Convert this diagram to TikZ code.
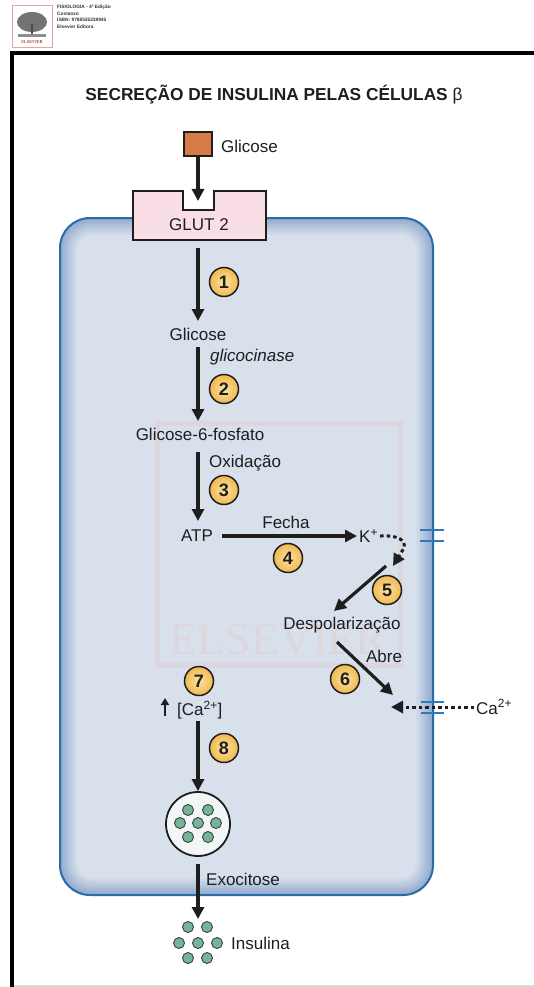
\documentclass[tikz,border=0pt]{standalone}
\usepackage{fontspec}
\setmainfont{Liberation Sans}
\newfontfamily\logoserif{Liberation Serif}
\usetikzlibrary{arrows.meta,calc}

\definecolor{cellin}{HTML}{D8E0EC}
\definecolor{celledge}{HTML}{92ABCF}
\definecolor{cellline}{HTML}{2A6CA6}
\definecolor{glutfill}{HTML}{F9DFE5}
\definecolor{glcfill}{HTML}{D67A48}
\definecolor{numin}{HTML}{FCE3A2}
\definecolor{numout}{HTML}{F1B850}
\definecolor{granule}{HTML}{74B597}
\definecolor{wmark}{HTML}{E3CACB}
\definecolor{chan}{HTML}{2C7BC0}
\definecolor{ink}{HTML}{1E1E1E}

\tikzset{
  lbl/.style={font=\fontsize{17}{19}\selectfont, text=ink, inner sep=2pt},
  flow/.style={draw=ink, line width=3.2pt, -{Triangle[length=12pt,width=12pt]}},
  dotflow/.style={draw=ink, line width=3pt, dash pattern=on 3.5pt off 3pt, -{Triangle[length=12pt,width=12pt]}},
  stepnum/.style={circle, draw=ink, line width=1.5pt, inner color=numin, outer color=numout,
    minimum size=29pt, inner sep=0pt, font=\bfseries\fontsize{18}{18}\selectfont, text=ink},
  gran/.style={circle, draw=ink!85, line width=0.9pt, fill=granule, minimum size=11pt, inner sep=0pt},
  channel/.style={draw=chan, line width=1.8pt},
}

\begin{document}
\begin{tikzpicture}[x=1pt,y=-1pt]
\useasboundingbox (0,0) rectangle (534,987);
\fill[white] (0,0) rectangle (534,987);

% publisher header
\draw[draw=wmark!80!red, line width=0.8pt, fill=white] (12,5) rectangle (52,47);
\fill[black!55] (32,22) ellipse (15pt and 10pt);
\fill[black!70] (31,24) rectangle (33,36);
\fill[black!45] (18,34) rectangle (46,37);
\node[font=\logoserif\fontsize{4.5}{5}\selectfont, text=red!55!black, inner sep=0pt] (logotxt) at (32,42) {ELSEVIER};
\node[anchor=north west, align=left, inner sep=0pt, font=\bfseries\fontsize{4.8}{6.6}\selectfont, text=black!80] (book) at (57,5)
  {FISIOLOGIA - 4ª Edição\\Costanzo\\ISBN: 9788535238945\\Elsevier Editora};

% page frame
\fill[black] (10,51) rectangle (534,55);
\fill[black] (10,51) rectangle (14,987);
\fill[black!15] (14,985) rectangle (534,987);

% title
\node[font=\bfseries\fontsize{17.3}{20}\selectfont, text=ink] (title) at (274,95)
  {SECREÇÃO DE INSULINA PELAS CÉLULAS {\mdseries β}};

% cell body with darker rim
\foreach \i in {0,...,12}{
  \pgfmathtruncatemacro\p{\i*100/12}
  \pgfmathsetmacro\d{\i*1.4}
  \pgfmathsetmacro\r{30-\i*1.2}
  \fill[cellin!\p!celledge, rounded corners=\r pt] (60+\d,218+\d) rectangle (433-\d,895-\d);
}
\draw[cellline, line width=2pt, rounded corners=30pt] (60,218) rectangle (433,895);

% faint imprint in the cytoplasm
\draw[wmark, line width=5pt, opacity=0.4] (157,423) rectangle (400,665);
\node[font=\logoserif\fontsize{46}{46}\selectfont, text=wmark, opacity=0.45, inner sep=0pt] (imprint) at (278,640) {ELSEVIER};

% glucose transporter
\draw[draw=ink, line width=1.6pt, fill=glutfill] (133,191) -- (183,191) -- (183,210) -- (214,210) -- (214,191)
  -- (266,191) -- (266,240) -- (133,240) -- cycle;
\node[lbl] (glut) at (199,225) {GLUT 2};

% extracellular glucose
\node[draw=ink, line width=1.2pt, fill=glcfill, minimum width=28pt, minimum height=24pt, inner sep=0pt] (glcbox) at (198,144) {};
\node[lbl, anchor=west] (glcout) at (219,146) {Glicose};
\coordinate (notch) at (198,201);
\draw[flow] (glcbox.south) -- (notch);

% metabolic chain
\node[lbl] (g1) at (198,334) {Glicose};
\node[lbl] (g6p) at (200,434) {Glicose-6-fosfato};
\node[lbl] (atp) at (197,536) {ATP};
\node[lbl, anchor=west] (kion) at (357,536) {K\textsuperscript{+}};
\node[lbl] (depol) at (342,625) {Despolarização};
\node[lbl, anchor=west] (caout) at (474,707) {Ca\textsuperscript{2+}};
\node[lbl, anchor=west] (cain) at (175,710) {[Ca\textsuperscript{2+}]};

\coordinate (a1s) at (198,248);  \coordinate (a1e) at (198,321);
\coordinate (a2s) at (198,347);  \coordinate (a2e) at (198,421);
\coordinate (a3s) at (198,452);  \coordinate (a3e) at (198,521);
\draw[flow] (a1s) -- (a1e);
\draw[flow] (a2s) -- (a2e);
\draw[flow] (a3s) -- (a3e);

\node[lbl, anchor=west, font=\itshape\fontsize{17}{19}\selectfont] (gck) at (208,357) {glicocinase};
\node[lbl, anchor=west] (oxid) at (207,463) {Oxidação};

\coordinate (a4s) at (222,536);
\draw[flow] (a4s) -- (kion.west);
\node[lbl] (fecha) at (286,522) {Fecha};

% K+ leaves through its channel, then depolarisation
\coordinate (kbend) at (404,548);
\coordinate (kend) at (393,566);
\draw[dotflow] (kion.east) .. controls (398,535) and (406,540) .. (kbend) -- (kend);
\coordinate (a5s) at (386,566);  \coordinate (a5e) at (334,611);
\draw[flow] (a5s) -- (a5e);

\coordinate (a6s) at (337,642);  \coordinate (a6e) at (393,695);
\draw[flow] (a6s) -- (a6e);
\node[lbl] (abre) at (384,656) {Abre};

% Ca2+ enters through its channel
\coordinate (caend) at (391,707);
\draw[dotflow] (caout.west) -- (caend);

% membrane channels
\draw[channel] (420,530) -- (444,530);
\draw[channel] (420,541) -- (444,541);
\draw[channel] (421,702) -- (444,702);
\draw[channel] (421,713) -- (444,713);

% rise of cytosolic Ca2+
\coordinate (upb) at (165,716);
\coordinate (upt) at (165,698);
\draw[draw=ink, line width=2pt, -{Triangle[length=7pt,width=8pt]}] (upb) -- (upt);

% insulin granule
\node[circle, draw=ink, line width=1.8pt, fill=white!70!cellin, minimum size=64pt, inner sep=0pt] (vesicle) at (198,824) {};
\coordinate (a8s) at (198,721);
\draw[flow] (a8s) -- (vesicle.north);
\foreach \gx/\gy [count=\k] in {188/810,208/810,180/823,198/823,216/823,188/837,208/837}
  \node[gran] (v\k) at (\gx,\gy) {};

% exocytosis
\coordinate (a9s) at (198,864);  \coordinate (a9e) at (198,919);
\draw[flow] (a9s) -- (a9e);
\node[lbl, anchor=west] (exo) at (204,879) {Exocitose};
\foreach \gx/\gy [count=\k] in {188/927,207/927,179/943,198/943,217/943,188/958,207/958}
  \node[gran] (s\k) at (\gx,\gy) {};
\node[lbl, anchor=west] (ins) at (229,943) {Insulina};

% numbered steps
\node[stepnum] (n1) at (224,282) {1};
\node[stepnum] (n2) at (224,389) {2};
\node[stepnum] (n3) at (224,490) {3};
\node[stepnum] (n4) at (288,558) {4};
\node[stepnum] (n5) at (387,590) {5};
\node[stepnum] (n6) at (345,679) {6};
\node[stepnum] (n7) at (199,681) {7};
\node[stepnum] (n8) at (224,748) {8};
\end{tikzpicture}
\end{document}
